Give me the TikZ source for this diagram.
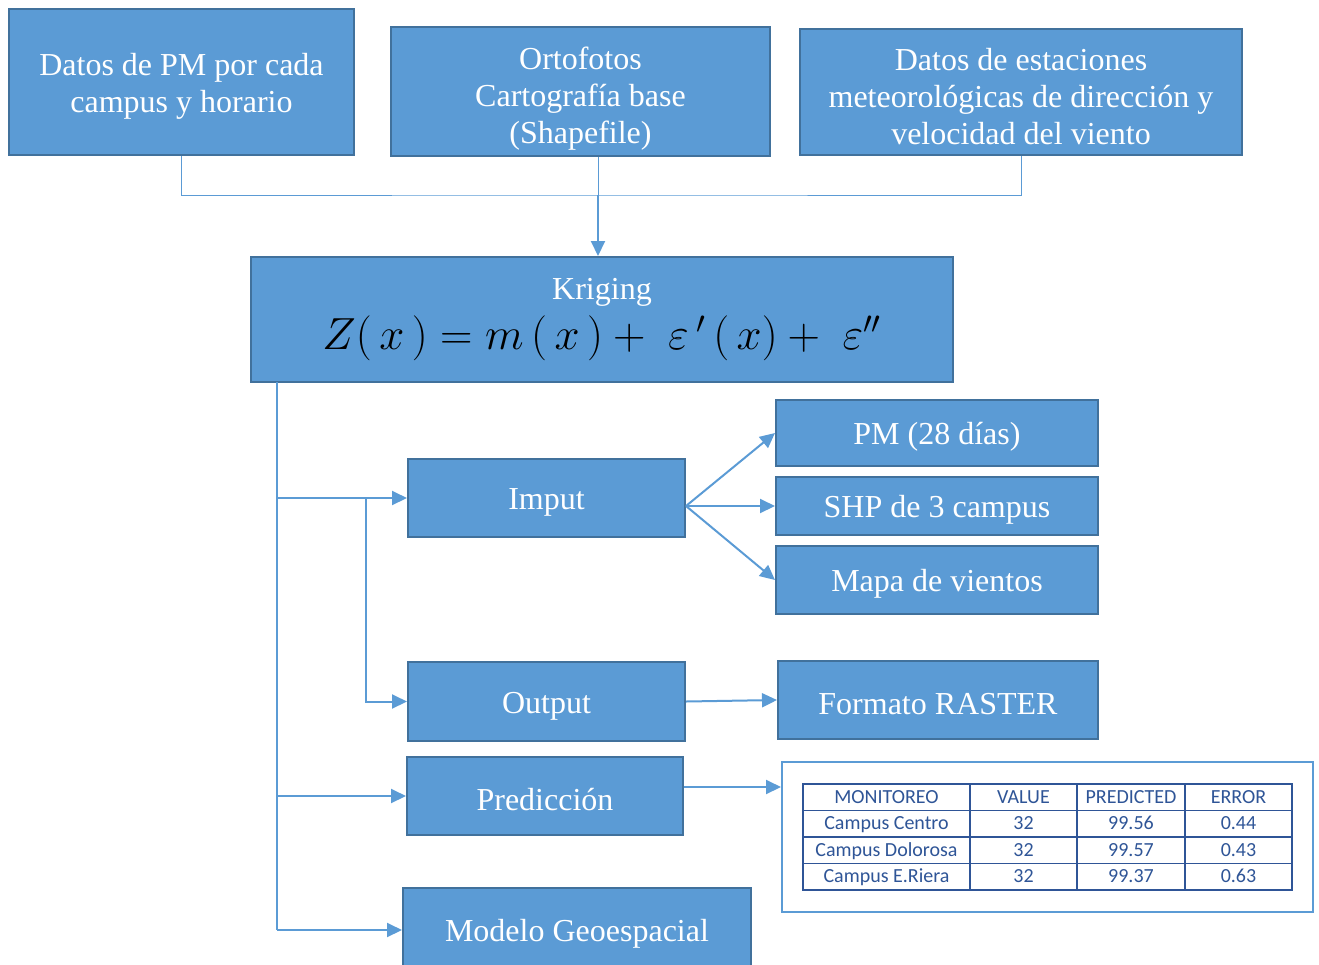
\RequirePackage{fix-cm}
\documentclass[tikz,border=0pt]{standalone}
\usepackage{fontspec}
\setmainfont{Liberation Serif}
\newfontfamily\calibri{Carlito}
\usepackage{xcolor}
\usepackage{tikz}
\usetikzlibrary{positioning,arrows.meta,matrix,calc}
\definecolor{azul}{HTML}{5B9BD5}
\definecolor{borde}{HTML}{41719C}
\definecolor{tinta}{HTML}{2F5597}

\begin{document}
\begin{tikzpicture}[
  x=0.5pt, y=-0.5pt,
  box/.style={draw=borde, line width=1pt, fill=azul, text=white, align=center, font=\fontsize{16}{18.5}\selectfont, inner sep=2pt, execute at begin node=\rule{0pt}{15pt}},
  celda/.style={draw=tinta, line width=0.6pt, text=tinta, font=\calibri\fontsize{10}{12}\selectfont, minimum height=13.25pt, text height=7.5pt, text depth=1.5pt, inner sep=1pt, anchor=center},
  arr/.style={-{Triangle[length=7.5pt,width=7pt]}, azul, line width=1pt},
  lnk/.style={azul, line width=0.5pt}
]
\useasboundingbox (0,0) rectangle (1319,965);
% fuentes de datos
\node[box, minimum width=172.5pt, minimum height=73pt] (pm) at (181.5,82) {\rule{0pt}{15pt}Datos de PM por cada\\campus y horario};
\node[box, minimum width=189.5pt, minimum height=64.5pt] (orto) at (580.5,91.5) {\rule{0pt}{18pt}Ortofotos\\Cartografía base\\(Shapefile)};
\node[box, minimum width=221pt, minimum height=63pt] (est) at (1021,92) {\rule{0pt}{16pt}Datos de estaciones\\meteorológicas de dirección y\\velocidad del viento};
\node[box, execute at begin node={}, minimum width=351pt, minimum height=62.5pt] (krig) at (602,319.5) {Kriging\\[4pt]{\color{black}\fontsize{22.5}{25}\selectfont$Z(\,x\,)=m\,(\,x\,)+\;\varepsilon\,'\,(\,x)+\;\varepsilon''$}};
\coordinate (union) at (598,195);
\draw[lnk] (pm.south) |- (union) -| (est.south);
\draw[lnk] (union |- orto.south) -- (union);
\draw[arr] (union) -- (union |- krig.north);
% etapas
\node[box, minimum width=138.5pt, minimum height=39pt] (imput) at (546.5,498) {Imput};
\node[box, minimum width=161pt, minimum height=33pt] (pmd) at (937,433) {PM (28 días)};
\node[box, minimum width=161pt, minimum height=29pt] (shp) at (937,506) {SHP de 3 campus};
\node[box, minimum width=161pt, minimum height=34pt] (mapa) at (937,580) {Mapa de vientos};
\node[box, minimum width=138.5pt, minimum height=39.5pt] (output) at (546.5,701.5) {Output};
\node[box, minimum width=160pt, minimum height=39pt] (raster) at (938,700) {Formato RASTER};
\node[box, minimum width=138pt, minimum height=39pt] (pred) at (545,796) {Predicción};
\node[box, minimum width=174pt, minimum height=42pt] (modelo) at (577,930) {Modelo Geoespacial};
\node[draw=azul, line width=1pt, fill=white, minimum width=265.5pt, minimum height=75pt] (marco) at (1047.5,837) {};
\matrix (tabla) [matrix of nodes, nodes={celda}, column sep=-0.6pt, row sep=-0.6pt,
  column 1/.style={nodes={minimum width=83.5pt}}, column 2/.style={nodes={minimum width=53.5pt}},
  column 3/.style={nodes={minimum width=54pt}}, column 4/.style={nodes={minimum width=53.5pt}}] at (1047.5,837) {
  MONITOREO & VALUE & PREDICTED & ERROR \\
  Campus Centro & 32 & 99.56 & 0.44 \\
  Campus Dolorosa & 32 & 99.57 & 0.43 \\
  Campus E.Riera & 32 & 99.37 & 0.63 \\
};
% conexiones
\coordinate (tronco) at (277,382);
\coordinate (rama) at (366,0);
\draw[azul, line width=0.75pt] (tronco) -- (tronco |- modelo.west);
\draw[arr] (tronco |- imput.west) -- (imput.west);
\draw[arr] (rama |- imput.west) |- (output.west);
\draw[arr] (tronco |- pred.west) -- (pred.west);
\draw[arr] (tronco |- modelo.west) -- (modelo.west);
\draw[arr] ([yshift=-4pt]imput.east) -- (pmd.west);
\draw[arr] ([yshift=-4pt]imput.east) -- (shp.west);
\draw[arr] ([yshift=-4pt]imput.east) -- (mapa.west);
\draw[arr] (output.east) -- (raster.west);
\draw[arr] ([yshift=4.5pt]pred.east) -- ([yshift=4.5pt]pred.east -| marco.west);
\end{tikzpicture}
\end{document}
